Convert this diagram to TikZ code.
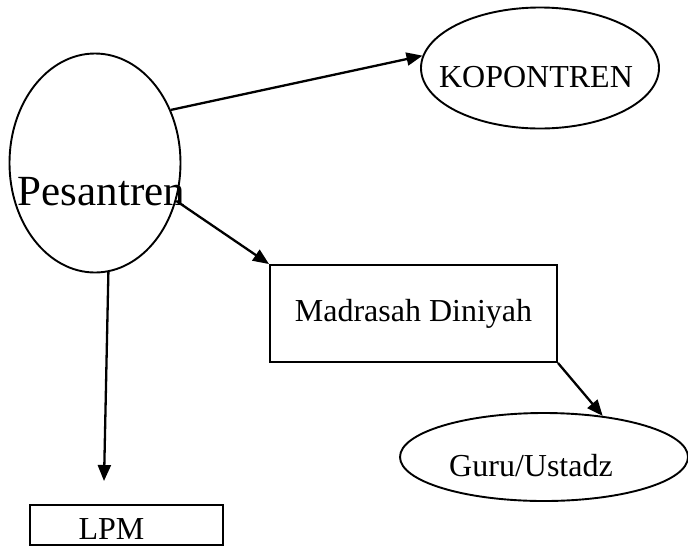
\documentclass[tikz,border=0pt]{standalone}
\usepackage{fontspec}
\setmainfont{Liberation Serif}
\usetikzlibrary{shapes.geometric,arrows.meta}

\begin{document}
\begin{tikzpicture}[x=1pt,y=-1pt,
  shp/.style={draw,line width=1.9pt,inner sep=0pt},
  txt/.style={font=\fontsize{32}{34}\selectfont,inner sep=0pt},
  arr/.style={line width=2.3pt,-{Triangle[length=16pt,width=13pt]}}]
\useasboundingbox (0,0) rectangle (688,558);
% shapes
\node[shp,ellipse,minimum width=171pt,minimum height=219pt] (pes) at (95,163) {};
\node[shp,ellipse,minimum width=238pt,minimum height=121pt] (kop) at (540,68) {};
\node[shp,txt,minimum width=287pt,minimum height=97pt] (mad) at (413.5,313.5) {Madrasah Diniyah};
\node[shp,ellipse,minimum width=288pt,minimum height=88pt] (guru) at (544,457) {};
\node[shp,minimum width=193pt,minimum height=40pt] (lpm) at (126.5,525) {};
% texts
\node[txt,font=\fontsize{43}{45}\selectfont] (pestext) at (101.5,192) {Pesantren};
\node[txt] (koptext) at (536,77) {KOPONTREN};
\node[txt] (gurutext) at (531,466) {Guru/Ustadz};
\node[txt] (lpmtext) at (111.5,529) {LPM};
% arrows
\coordinate (lpmtip) at (104,481);
\draw[arr] (pes.35) -- (kop.174);
\draw[arr] (pes.-25) -- (mad.north west);
\draw[arr] (pes.-83) -- (lpmtip);
\draw[arr] (mad.south east) -- (guru.35);
\end{tikzpicture}
\end{document}
